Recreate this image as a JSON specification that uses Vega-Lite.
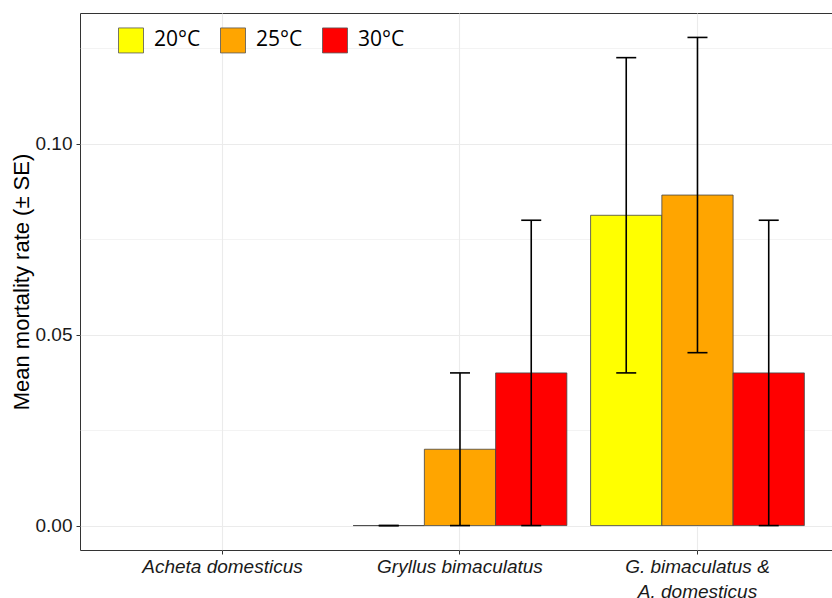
{
  "$schema": "https://vega.github.io/schema/vega-lite/v6.json",
  "width": 752,
  "height": 537,
  "autosize": {"type": "none"},
  "padding": {"left": 80, "top": 13, "right": 0, "bottom": 48},
  "background": "white",
  "config": {
    "view": {"stroke": "#333333", "strokeWidth": 1},
    "font": "Liberation Sans"
  },
  "data": {
    "values": [
      {"species": "Gryllus bimaculatus", "temp": "20°C", "mean": 0, "lo": 0, "hi": 0},
      {"species": "Gryllus bimaculatus", "temp": "25°C", "mean": 0.02, "lo": 0, "hi": 0.04},
      {"species": "Gryllus bimaculatus", "temp": "30°C", "mean": 0.04, "lo": 0, "hi": 0.08},
      {"species": "G. bimaculatus & A. domesticus", "temp": "20°C", "mean": 0.0813, "lo": 0.04, "hi": 0.1226},
      {"species": "G. bimaculatus & A. domesticus", "temp": "25°C", "mean": 0.0866, "lo": 0.0453, "hi": 0.1279},
      {"species": "G. bimaculatus & A. domesticus", "temp": "30°C", "mean": 0.04, "lo": 0, "hi": 0.08}
    ]
  },
  "encoding": {
    "x": {
      "field": "species",
      "type": "nominal",
      "sort": null,
      "scale": {
        "domain": ["Acheta domesticus", "Gryllus bimaculatus", "G. bimaculatus & A. domesticus"],
        "paddingInner": 0.1,
        "paddingOuter": 0.1332,
        "align": 0.563
      },
      "axis": {
        "title": null,
        "labelAngle": 0,
        "labelFont": "Liberation Sans",
        "labelFontStyle": "italic",
        "labelFontSize": 19,
        "labelColor": "#1a1a1a",
        "labelPadding": 3,
        "labelLineHeight": 25,
        "labelExpr": "datum.label == 'G. bimaculatus & A. domesticus' ? ['G. bimaculatus  &', 'A. domesticus'] : datum.label",
        "tickColor": "#333333",
        "tickSize": 4,
        "tickWidth": 1,
        "domain": false,
        "grid": true,
        "gridColor": "#EBEBEB",
        "gridWidth": 1.1
      }
    },
    "xOffset": {
      "field": "temp",
      "type": "nominal",
      "scale": {"domain": ["20°C", "25°C", "30°C"], "paddingInner": 0, "paddingOuter": 0}
    }
  },
  "layer": [
    {
      "mark": {"type": "bar", "stroke": "#444444", "strokeWidth": 0.8},
      "encoding": {
        "y": {
          "field": "mean",
          "type": "quantitative",
          "stack": null,
          "title": "Mean mortality rate (± SE)",
          "scale": {"domain": [-0.0064, 0.1343], "nice": false, "zero": false},
          "axis": {
            "values": [0, 0.025, 0.05, 0.075, 0.1, 0.125],
            "format": ".2f",
            "labelExpr": "round(datum.value*1000) % 50 == 0 ? datum.label : ''",
            "labelFontSize": 19,
            "labelColor": "#1a1a1a",
            "labelPadding": 4,
            "tickSize": 4,
            "tickColor": "#333333",
            "tickOpacity": {"condition": {"test": "round(datum.value*1000) % 50 == 0", "value": 1}, "value": 0},
            "domain": false,
            "grid": true,
            "gridColor": "#EBEBEB",
            "gridWidth": {"condition": {"test": "round(datum.value*1000) % 50 == 0", "value": 1.2}, "value": 0.6},
            "titleFont": "Liberation Sans",
            "titleFontSize": 22,
            "titleFontWeight": "normal",
            "titleColor": "#000000",
            "titlePadding": 2
          }
        },
        "y2": {"datum": 0},
        "fill": {
          "field": "temp",
          "type": "nominal",
          "scale": {"domain": ["20°C", "25°C", "30°C"], "range": ["#FFFF00", "#FFA500", "#FF0000"]},
          "legend": {
            "title": null,
            "orient": "none",
            "legendX": 38,
            "legendY": 14,
            "direction": "horizontal",
            "padding": 0,
            "symbolType": "square",
            "symbolSize": 625,
            "symbolStrokeColor": "#555555",
            "symbolStrokeWidth": 0.8,
            "symbolOpacity": 1,
            "labelFont": "Open Sans",
            "labelFontSize": 21,
            "labelColor": "#000000",
            "labelOffset": 10,
            "columnPadding": 17
          }
        }
      }
    },
    {
      "mark": {"type": "rule", "color": "#000000", "strokeWidth": 1.6},
      "encoding": {
        "y": {"field": "lo", "type": "quantitative", "title": "Mean mortality rate (± SE)"},
        "y2": {"field": "hi"}
      }
    },
    {
      "mark": {"type": "tick", "orient": "horizontal", "size": 20, "thickness": 1.6, "color": "#000000", "opacity": 1},
      "encoding": {
        "y": {"field": "lo", "type": "quantitative", "title": "Mean mortality rate (± SE)"}
      }
    },
    {
      "mark": {"type": "tick", "orient": "horizontal", "size": 20, "thickness": 1.6, "color": "#000000", "opacity": 1},
      "encoding": {
        "y": {"field": "hi", "type": "quantitative", "title": "Mean mortality rate (± SE)"}
      }
    }
  ]
}
